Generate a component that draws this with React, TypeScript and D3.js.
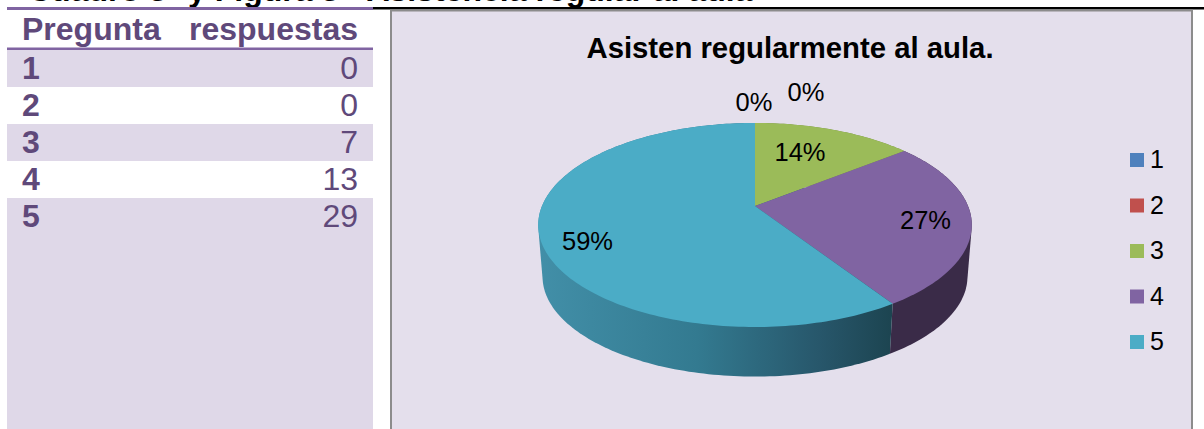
import React from "react";
import * as d3 from "d3";

const tableHeaders = ["Pregunta", "respuestas"];
const preguntas = ["1", "2", "3", "4", "5"];
const respuestas = [0, 0, 7, 13, 29];
const sliceColors = ["#4f81bd", "#c0504d", "#9bbb59", "#8064a2", "#4bacc6"];
const wallColors = ["#3c5f8a", "#8a3a38", "#6f8840", "#3a2b48", "url(#wall5)"];
const topTitleParts = ["Cuadro 3", "y Figura 3 - Asistencia regular al aula"];
const chartTitle = "Asisten regularmente al aula.";

const W = 1204, H = 429;
const CX = 755, CY = 206, R = 213, S = 98.5, K = 0.186;
const BS = 0.98, DEPTH = 52;

function project(a: number, bottom: boolean): [number, number] {
  const X = Math.sin(a), Y = Math.cos(a), w = 1 + K * Y;
  const s = bottom ? BS : 1, d = bottom ? DEPTH : 0;
  return [CX + (R * s * X) / w, CY - (S * s * Y) / w + d];
}
function arcPts(a0: number, a1: number, bottom: boolean): [number, number][] {
  const n = Math.max(2, Math.ceil(Math.abs(a1 - a0) / 0.02));
  return d3.range(n + 1).map((i) => project(a0 + ((a1 - a0) * i) / n, bottom));
}
const line = d3.line();

export default function App() {
  const arcs = d3.pie<number>().sort(null).value((d) => d)(respuestas);
  const total = d3.sum(respuestas);
  const rowY = d3.scaleBand<string>().domain(preguntas).range([50, 235]);
  const legendY = d3.scalePoint<string>().domain(preguntas).range([160, 342]);
  const pct = d3.format(".0%");
  const labelPos: [number, number][] = [[754, 111], [806, 101], [800, 161], [925.5, 229], [587.5, 250]];
  return (
    <svg width={W} height={H} style={{ position: "absolute", left: 0, top: 0, fontFamily: "'Liberation Sans', Arial, sans-serif" }}>
      <defs>
        <linearGradient id="wall5" gradientUnits="userSpaceOnUse" x1={538} x2={893} y1={0} y2={0}>
          <stop offset="0" stopColor="#428fa8" />
          <stop offset="0.45" stopColor="#337a90" />
          <stop offset="0.8" stopColor="#27566a" />
          <stop offset="1" stopColor="#1c4450" />
        </linearGradient>
      </defs>
      <rect width={W} height={H} fill="#fff" />
      <text y={0.5} fontSize={32} fontWeight="bold" fill="#000">
        <tspan x={28}>{topTitleParts[0]}</tspan>
        <tspan x={188}>{topTitleParts[1]}</tspan>
      </text>
      <rect x={7} y={50} width={366} height={H - 50} fill="#dfd8e8" />
      <rect x={373} y={7} width={831} height={2.5} fill="#000" />
      <rect x={7} y={7} width={366} height={3} fill="#8064a2" />
      <rect x={7} y={47.5} width={366} height={2.5} fill="#8064a2" />
      {[1, 3].map((i) => (
        <rect key={i} x={7} y={rowY(preguntas[i])!} width={366} height={rowY.bandwidth()} fill="#fff" />
      ))}
      <text x={22} y={39.5} fontSize={32} fontWeight="bold" fill="#5f497a">{tableHeaders[0]}</text>
      <text x={358} y={39.5} fontSize={32} fontWeight="bold" fill="#5f497a" textAnchor="end">{tableHeaders[1]}</text>
      {preguntas.map((p, i) => (
        <g key={p} fontSize={32} fill="#5f497a">
          <text x={22} y={rowY(p)! + 29} fontWeight="bold">{p}</text>
          <text x={358} y={rowY(p)! + 29} textAnchor="end">{respuestas[i]}</text>
        </g>
      ))}
      <rect x={391} y={10.5} width={801} height={H} fill="#e4dfec" stroke="#8c8c8c" strokeWidth={2} />
      <text x={790} y={58} fontSize={29.3} fontWeight="bold" textAnchor="middle" fill="#000">{chartTitle}</text>
      {arcs.map((d, i) => d.value > 0 && (
        <path key={"w" + i}
          d={line(d3.polygonHull([...arcPts(d.startAngle, d.endAngle, false), ...arcPts(d.endAngle, d.startAngle, true)])!)! + "Z"}
          fill={wallColors[i]} />
      ))}
      {arcs.map((d, i) => d.value > 0 && (
        <path key={"t" + i}
          d={line([[CX, CY], ...arcPts(d.startAngle, d.endAngle, false)])! + "Z"}
          fill={sliceColors[i]} />
      ))}
      {respuestas.map((v, i) => (
        <text key={"l" + i} x={labelPos[i][0]} y={labelPos[i][1]} fontSize={25.5} textAnchor="middle" fill="#000">{pct(v / total)}</text>
      ))}
      {preguntas.map((p, i) => (
        <g key={"lg" + i}>
          <rect x={1130} y={legendY(p)! - 7} width={14} height={14} fill={sliceColors[i]} />
          <text x={1150} y={legendY(p)! + 8} fontSize={25} fill="#000">{p}</text>
        </g>
      ))}
    </svg>
  );
}
